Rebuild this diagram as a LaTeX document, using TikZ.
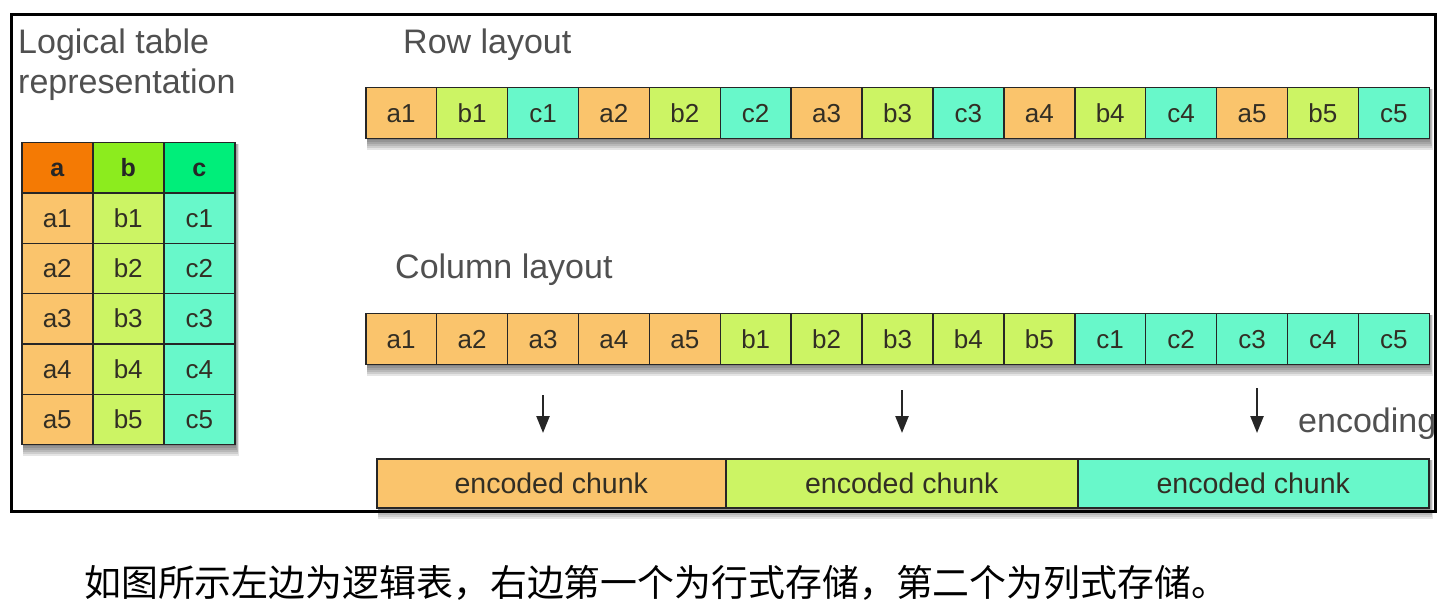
\documentclass[tikz,border=0pt]{standalone}
\usepackage{fontspec}
\setmainfont{Liberation Sans}
\newfontfamily\cjk{Noto Sans CJK SC}
\usetikzlibrary{arrows.meta}
\definecolor{ca}{RGB}{250,196,108}
\definecolor{cb}{RGB}{204,244,100}
\definecolor{cc}{RGB}{104,248,202}
\definecolor{ha}{RGB}{244,122,4}
\definecolor{hb}{RGB}{140,236,30}
\definecolor{hc}{RGB}{0,238,122}
\definecolor{labelgray}{RGB}{80,80,80}
\definecolor{celltext}{RGB}{50,46,36}
\tikzset{
  cellbox/.style={draw=black!85, line width=1.5pt, minimum width=70.9pt, minimum height=50.6pt,
    inner sep=0pt, anchor=north west, font=\fontsize{26}{26}\selectfont, text=celltext,
    text height=18pt, text depth=0pt},
  tcell/.style={cellbox, minimum width=71pt, minimum height=50.3pt},
  hcell/.style={tcell, font=\bfseries\fontsize{25}{25}\selectfont, text=black!85},
  chunkbox/.style={cellbox, font=\fontsize{28.5}{28.5}\selectfont, text height=21pt, text depth=0pt},
  lbl/.style={font=\fontsize{34}{35}\selectfont, text=labelgray, inner sep=0pt},
  enc/.style={-{Triangle[length=17pt,width=13pt]}, line width=2.4pt, draw=black!85, fill=black!85},
}
\newcommand{\softshadow}[4]{%
  \foreach \s in {2,4,6,8,10,12}{%
    \fill[black, opacity=0.1] ({#1+2},{#2+2}) rectangle ({#3+1+\s/3},{#4+\s});
  }%
}
\begin{document}
\begin{tikzpicture}[x=1pt,y=-1pt]
\useasboundingbox (0,0) rectangle (1442,609);
\fill[white] (0,0) rectangle (1442,609);
% frame
\draw[line width=3.5pt] (11.5,14.5) rectangle (1435.5,511.5);
% labels
\node[lbl, anchor=base west] (ltitle1) at (18,54) {Logical table};
\node[lbl, anchor=base west] (ltitle2) at (18,94) {representation};
\node[lbl, anchor=base west] (rowlbl) at (403,54) {Row layout};
\node[lbl, anchor=base west] (collbl) at (395,279) {Column layout};
% logical table
\softshadow{21}{142}{234}{444}
\node[hcell, fill=ha] (ha) at (21,142) {a};
\node[hcell, fill=hb] (hb) at (92,142) {b};
\node[hcell, fill=hc] (hc) at (163,142) {c};
\foreach \r in {1,...,5}{
  \node[tcell, fill=ca] (ta\r) at (21,{142+50.3*\r}) {a\r};
  \node[tcell, fill=cb] (tb\r) at (92,{142+50.3*\r}) {b\r};
  \node[tcell, fill=cc] (tc\r) at (163,{142+50.3*\r}) {c\r};
}
% row layout
\softshadow{365}{87}{1428}{138}
\foreach \t/\c [count=\k from 0] in {a1/ca,b1/cb,c1/cc,a2/ca,b2/cb,c2/cc,a3/ca,b3/cb,c3/cc,a4/ca,b4/cb,c4/cc,a5/ca,b5/cb,c5/cc}{
  \node[cellbox, fill=\c] (r\k) at ({365+70.9*\k},87) {\t};
}
% column layout
\softshadow{365}{313}{1428}{364}
\foreach \t/\c [count=\k from 0] in {a1/ca,a2/ca,a3/ca,a4/ca,a5/ca,b1/cb,b2/cb,b3/cb,b4/cb,b5/cb,c1/cc,c2/cc,c3/cc,c4/cc,c5/cc}{
  \node[cellbox, fill=\c] (c\k) at ({365+70.9*\k},313) {\t};
}
% arrows
\coordinate (a1s) at (543,395); \coordinate (a1e) at (543,433);
\coordinate (a2s) at (902,390); \coordinate (a2e) at (902,433);
\coordinate (a3s) at (1257,388); \coordinate (a3e) at (1257,433);
\draw[enc] (a1s) -- (a1e);
\draw[enc] (a2s) -- (a2e);
\draw[enc] (a3s) -- (a3e);
\begin{scope}
\clip (13.5,16.5) rectangle (1433.5,509.5);
\node[lbl, anchor=base west] (enclbl) at (1298,432) {encoding};
\end{scope}
% encoded chunks
\softshadow{376}{458}{1428}{507}
\node[chunkbox, fill=ca, minimum width=349pt, minimum height=49pt] (ch1) at (376,458) {encoded chunk};
\node[chunkbox, fill=cb, minimum width=352pt, minimum height=49pt] (ch2) at (725,458) {encoded chunk};
\node[chunkbox, fill=cc, minimum width=351pt, minimum height=49pt] (ch3) at (1077,458) {encoded chunk};
% caption
\node[anchor=base west, inner sep=0pt, font=\cjk\fontsize{36.9}{36.9}\selectfont] (cap) at (84,596) {如图所示左边为逻辑表，右边第一个为行式存储，第二个为列式存储。};
\end{tikzpicture}
\end{document}
